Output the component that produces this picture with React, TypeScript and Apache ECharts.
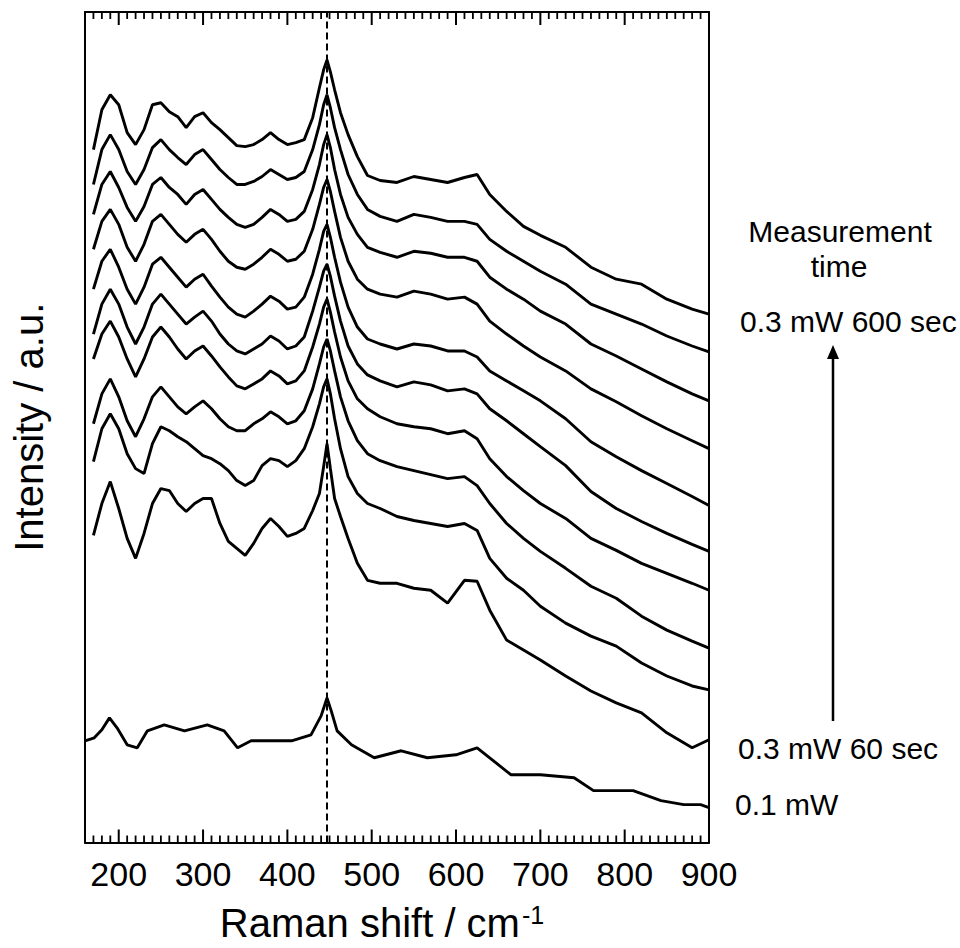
import React, { useEffect, useRef } from "react";
import * as echarts from "echarts";

// Raman shift nodes (cm-1) for the 0.3 mW spectra
const SHIFT = [170,180,190,200,210,220,230,240,250,260,270,280,290,300,310,320,330,340,350,360,370,380,390,400,410,420,430,438,443,447,451,456,463,472,483,495,510,530,550,570,590,610,625,640,660,680,700,730,760,790,820,850,880,900];

// 0.3 mW spectra, from latest (600 sec, top) to earliest (60 sec, bottom); intensity a.u.
const S600 = [850,890,905,895,867,855,870,895,897,888,883,872,883,887,877,870,862,854,853,855,860,867,860,855,857,860,882,912,930,940,928,910,887,865,843,824,819,817,823,820,817,822,825,805,788,773,764,752,732,720,715,700,690,685];
const S540 = [815,850,865,850,828,815,830,852,860,850,842,835,845,850,840,830,822,815,815,818,823,830,825,820,822,828,850,875,895,905,892,872,850,825,805,790,783,778,785,782,778,778,775,760,748,738,728,715,695,685,675,663,653,647];
const S480 = [785,815,828,812,792,778,793,815,822,812,805,795,805,810,800,790,782,775,772,775,782,790,785,778,780,788,810,835,855,865,852,830,805,782,765,752,747,742,748,746,742,742,738,722,710,700,688,675,655,643,630,617,605,598];
const S420 = [750,778,790,775,752,738,755,778,785,775,765,757,765,770,760,748,738,732,730,735,742,750,745,738,740,748,770,795,812,820,808,788,762,738,720,710,705,702,708,705,700,702,695,678,665,653,642,628,610,597,583,570,558,550];
const S360 = [710,738,750,732,710,695,712,735,742,732,722,712,720,725,713,702,692,685,682,688,695,703,698,690,692,702,725,750,768,775,762,742,717,692,672,660,655,650,655,653,648,648,642,628,618,608,598,580,557,542,528,515,502,493];
const S300 = [665,695,710,695,672,655,672,695,705,695,685,675,682,688,678,665,655,648,645,650,655,663,658,650,653,662,688,712,728,735,723,703,678,653,635,624,618,612,617,614,608,610,605,590,578,565,552,533,507,490,477,465,454,447];
const S240 = [640,665,678,662,640,622,640,662,672,662,650,640,648,653,643,632,622,613,610,615,620,628,623,615,618,628,652,675,692,700,687,667,642,618,600,590,582,575,572,570,565,568,560,540,522,508,495,480,460,448,435,425,415,408];
const S180 = [575,605,620,602,578,562,580,602,612,602,592,585,592,598,590,580,572,568,568,575,580,587,582,575,578,588,610,635,652,660,648,628,602,578,558,545,538,532,528,524,520,522,513,495,475,460,447,430,412,400,382,368,357,350];
const S120 = [537,570,585,570,545,530,525,555,572,568,562,557,550,543,540,535,528,518,513,518,533,540,538,532,538,550,572,595,612,620,605,580,550,522,505,495,490,482,478,475,472,475,468,440,420,408,392,375,362,352,335,322,312,308];
const S060 = [463,495,517,490,460,440,465,495,510,508,495,487,495,500,500,475,457,450,443,455,470,480,472,462,465,470,488,505,532,555,530,500,482,460,435,418,415,415,410,408,395,418,417,388,358,348,338,322,307,295,285,265,250,258];

// 0.1 mW spectrum
const SHIFT_01 = [160,171,180,189,198,210,222,234,254,278,305,325,341,357,381,405,428,440,447,452,459,476,503,535,566,600,625,665,700,740,763,810,843,870,890,900];
const S01 = [257,260,268,280,270,253,250,267,273,267,273,267,250,257,257,257,263,282,300,287,267,253,240,247,240,243,250,223,223,220,207,207,197,193,193,190];

const PEAK_LINE = [447];

// tick values of the x axis (top and bottom); multiples of 100 are the labelled ones
const X_TICKS = [170,180,190,200,210,220,230,240,250,260,270,280,290,300,310,320,330,340,350,360,370,380,390,400,410,420,430,440,450,460,470,480,490,500,510,520,530,540,550,560,570,580,590,600,610,620,630,640,650,660,670,680,690,700,710,720,730,740,750,760,770,780,790,800,810,820,830,840,850,860,870,880,890];

const X_MIN = 160, X_MAX = 900, X_LABEL_MIN = 200, X_MAJOR_STEP = 100;
const Y_MIN = 155, Y_MAX = 988;
const FONT = "Liberation Sans, Arial, sans-serif";

export default function App() {
  const ref = useRef<HTMLDivElement>(null);
  useEffect(() => {
    if (!ref.current) return;
    const chart = echarts.init(ref.current, null, { renderer: "svg" });
    const spectra03 = [S600, S540, S480, S420, S360, S300, S240, S180, S120, S060];
    const lineStyle = { color: "#000", width: 2.9 };
    const series: any[] = spectra03.map((arr) => ({
      type: "line",
      xAxisIndex: 0,
      yAxisIndex: 0,
      data: SHIFT.map((x, j) => [x, arr[j]]),
      showSymbol: false,
      lineStyle,
      silent: true,
      z: 3,
    }));
    series.push({
      type: "line",
      xAxisIndex: 0,
      yAxisIndex: 0,
      data: SHIFT_01.map((x, j) => [x, S01[j]]),
      showSymbol: false,
      lineStyle,
      silent: true,
      z: 3,
      markLine: {
        silent: true,
        symbol: ["none", "none"],
        label: { show: false },
        lineStyle: { color: "#000", type: [7, 4], width: 2 },
        data: PEAK_LINE.map((v) => ({ xAxis: v })),
      },
    });
    // inward tick marks on the bottom and top frame, placed by the x scale
    series.push({
      type: "custom",
      xAxisIndex: 0,
      yAxisIndex: 0,
      silent: true,
      clip: false,
      z: 5,
      data: X_TICKS.map((v) => [v, Y_MIN]),
      renderItem: (params: any, api: any) => {
        const v = api.value(0);
        const b = api.coord([v, Y_MIN]);
        const t = api.coord([v, Y_MAX]);
        const len = v % X_MAJOR_STEP === 0 ? 13 : 7;
        const w = v % X_MAJOR_STEP === 0 ? 2 : 1.8;
        return {
          type: "group",
          children: [
            { type: "line", shape: { x1: b[0], y1: b[1], x2: b[0], y2: b[1] - len }, style: { stroke: "#000", lineWidth: w } },
            { type: "line", shape: { x1: t[0], y1: t[1], x2: t[0], y2: t[1] + len }, style: { stroke: "#000", lineWidth: w } },
          ],
        };
      },
    });

    const W = 960, LEFT = 85, RIGHT = 251;
    const pxPerUnit = (W - LEFT - RIGHT) / (X_MAX - X_MIN);
    const leftMajor = LEFT + (X_LABEL_MIN - X_MIN) * pxPerUnit;

    const frameAxis = (pos: string, withName: boolean) => ({
      type: "value",
      gridIndex: 0,
      min: X_MIN,
      max: X_MAX,
      position: pos,
      axisLine: { show: true, onZero: false, lineStyle: { color: "#000", width: 2 } },
      axisTick: { show: false },
      axisLabel: { show: false },
      splitLine: { show: false },
      ...(withName
        ? {
            name: "Raman shift / cm{sup|-1}",
            nameLocation: "middle",
            nameGap: 60,
            nameTextStyle: {
              color: "#000",
              fontSize: 40,
              fontFamily: FONT,
              padding: [0, 30, 0, 0],
              rich: { sup: { fontSize: 25, fontFamily: FONT, color: "#000", verticalAlign: "top", padding: [0, 0, 16, 2] } },
            },
          }
        : {}),
    });

    chart.setOption({
      animation: false,
      backgroundColor: "#fff",
      grid: [
        { left: LEFT, right: RIGHT, top: 12, bottom: 103, containLabel: false },
        { left: leftMajor, right: RIGHT, top: 12, bottom: 103, containLabel: false },
      ],
      xAxis: [
        frameAxis("bottom", true),
        frameAxis("top", false),
        {
          type: "value",
          gridIndex: 1,
          min: X_LABEL_MIN,
          max: X_MAX,
          interval: X_MAJOR_STEP,
          position: "bottom",
          axisLine: { show: false, onZero: false },
          axisTick: { show: false },
          axisLabel: { show: true, color: "#000", fontSize: 34, fontFamily: FONT, margin: 12 },
          splitLine: { show: false },
        },
      ],
      yAxis: [
        {
          type: "value",
          gridIndex: 0,
          min: Y_MIN,
          max: Y_MAX,
          position: "left",
          axisLine: { show: true, onZero: false, lineStyle: { color: "#000", width: 2 } },
          axisTick: { show: false },
          axisLabel: { show: false },
          splitLine: { show: false },
          name: "Intensity / a.u.",
          nameLocation: "middle",
          nameGap: 36,
          nameRotate: 90,
          nameTextStyle: { color: "#000", fontSize: 40, fontFamily: FONT },
        },
        {
          type: "value",
          gridIndex: 0,
          min: Y_MIN,
          max: Y_MAX,
          position: "right",
          axisLine: { show: true, onZero: false, lineStyle: { color: "#000", width: 2 } },
          axisTick: { show: false },
          axisLabel: { show: false },
          splitLine: { show: false },
        },
        {
          type: "value",
          gridIndex: 1,
          min: Y_MIN,
          max: Y_MAX,
          axisLine: { show: false },
          axisTick: { show: false },
          axisLabel: { show: false },
          splitLine: { show: false },
        },
      ],
      series,
      graphic: [
        { type: "text", x: 840, y: 231, style: { text: "Measurement", fontSize: 30, fontFamily: FONT, fill: "#000", textAlign: "center", textVerticalAlign: "middle" } },
        { type: "text", x: 839, y: 266, style: { text: "time", fontSize: 30, fontFamily: FONT, fill: "#000", textAlign: "center", textVerticalAlign: "middle" } },
        { type: "text", x: 740, y: 321, style: { text: "0.3 mW 600 sec", fontSize: 30, fontFamily: FONT, fill: "#000", textAlign: "left", textVerticalAlign: "middle" } },
        { type: "text", x: 738, y: 748, style: { text: "0.3 mW 60 sec", fontSize: 30, fontFamily: FONT, fill: "#000", textAlign: "left", textVerticalAlign: "middle" } },
        { type: "text", x: 735, y: 804, style: { text: "0.1 mW", fontSize: 30, fontFamily: FONT, fill: "#000", textAlign: "left", textVerticalAlign: "middle" } },
        { type: "line", shape: { x1: 833, y1: 721, x2: 833, y2: 356 }, style: { stroke: "#000", lineWidth: 2.5 } },
        { type: "polygon", shape: { points: [[833, 345], [827, 359], [839, 359]] }, style: { fill: "#000" } },
      ],
    });
    return () => chart.dispose();
  }, []);
  return <div ref={ref} style={{ position: "fixed", left: 0, top: 0, width: 960, height: 948, background: "#fff" }} />;
}
